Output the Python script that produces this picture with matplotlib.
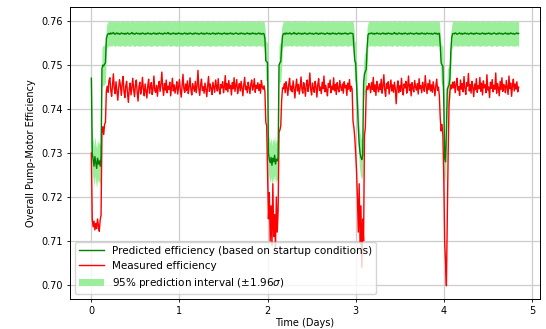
import numpy as np
import matplotlib
matplotlib.use("Agg")
import matplotlib.pyplot as plt
from matplotlib.lines import Line2D
from matplotlib.patches import Patch

# efficiency values in units of 1e-4, one sample every 0.01 days
sample_step_days = 0.01

# --- measured efficiency, per segment ---
meas_start0 = [7300, 7150, 7132, 7145, 7125, 7140, 7128, 7150, 7135, 7122,
               7148, 7158, 7345, 7360, 7342, 7365, 7370, 7440]
meas_run1 = [7452, 7438, 7465, 7471, 7443, 7429, 7456, 7480, 7447, 7435,
             7462, 7441, 7420, 7448, 7467, 7453, 7431, 7458, 7474, 7440,
             7426, 7451, 7463, 7437, 7415, 7446, 7459, 7432, 7449, 7470,
             7444, 7428, 7455, 7466, 7439, 7418, 7450, 7461, 7434, 7447,
             7472, 7445, 7430, 7457, 7441, 7425, 7452, 7468, 7436, 7449,
             7460, 7433, 7446, 7475, 7442, 7438, 7454, 7429, 7451, 7463,
             7440, 7456, 7484, 7447, 7431, 7458, 7443, 7466, 7437, 7452,
             7445, 7461, 7430, 7449, 7470, 7441, 7455, 7436, 7448, 7462,
             7434, 7451, 7467, 7443, 7427, 7453, 7479, 7446, 7438, 7457,
             7442, 7464, 7435, 7450, 7471, 7444, 7432, 7458, 7449, 7440,
             7463, 7437, 7452, 7488, 7446, 7431, 7455, 7468, 7442, 7451,
             7436, 7459, 7445, 7428, 7453, 7474, 7440, 7457, 7447, 7433,
             7461, 7449, 7438, 7466, 7452, 7441, 7469, 7445, 7434, 7456,
             7448, 7462, 7437, 7451, 7476, 7443, 7458, 7439, 7465, 7447,
             7454, 7432, 7460, 7446, 7471, 7440, 7453, 7467, 7435, 7449,
             7458, 7441, 7463, 7448, 7430, 7455, 7472, 7444, 7452, 7437,
             7461, 7449, 7435, 7457, 7466, 7443, 7451, 7469, 7438, 7454,
             7447, 7460, 7442, 7456, 7436, 7465, 7450, 7445, 7453]
meas_start2 = [7440, 7370, 7362, 7250, 7150, 7210, 7100, 7180, 7090, 7230,
               7110, 7160, 7085, 7200, 7120, 7170, 7348, 7352, 7362, 7420,
               7448]
meas_run2 = [7446, 7458, 7437, 7462, 7449, 7431, 7455, 7470, 7443, 7452,
             7439, 7464, 7447, 7425, 7451, 7468, 7441, 7456, 7434, 7449,
             7473, 7445, 7436, 7460, 7448, 7429, 7457, 7466, 7440, 7453,
             7482, 7444, 7432, 7459, 7447, 7438, 7463, 7451, 7427, 7455,
             7469, 7442, 7450, 7435, 7461, 7446, 7475, 7439, 7454, 7443,
             7430, 7458, 7449, 7466, 7437, 7452, 7444, 7471, 7441, 7456,
             7433, 7460, 7447, 7439, 7465, 7450, 7442, 7457, 7436, 7462,
             7448, 7454, 7431, 7459, 7445, 7467, 7440, 7452]
meas_start3 = [7445, 7372, 7358, 7335, 7300, 7260, 7200, 7120, 7230, 7095,
               7180, 7040, 7150, 7100, 7340, 7358, 7440, 7452, 7444, 7458]
meas_run3 = [7451, 7437, 7460, 7445, 7472, 7440, 7455, 7431, 7463, 7448,
             7439, 7457, 7444, 7468, 7436, 7452, 7478, 7443, 7429, 7458,
             7447, 7462, 7434, 7450, 7466, 7441, 7455, 7438, 7461, 7446,
             7412, 7449, 7464, 7437, 7453, 7440, 7470, 7445, 7432, 7457,
             7448, 7463, 7436, 7451, 7475, 7442, 7456, 7430, 7460, 7447,
             7439, 7465, 7450, 7443, 7458, 7434, 7469, 7446, 7453, 7437,
             7461, 7449, 7440, 7476, 7452, 7435, 7458, 7444, 7466, 7441,
             7455, 7438, 7462, 7447, 7430, 7453, 7468, 7442, 7450]
meas_start4 = [7430, 7380, 7350, 7365, 7340, 7250, 7100, 7053, 6998, 7150,
               7300, 7410, 7440, 7455, 7446, 7461]
meas_run4 = [7448, 7462, 7437, 7455, 7470, 7443, 7451, 7431, 7466, 7445,
             7458, 7439, 7474, 7447, 7433, 7460, 7452, 7481, 7441, 7456,
             7436, 7463, 7449, 7428, 7457, 7444, 7469, 7438, 7453, 7446,
             7472, 7440, 7459, 7432, 7464, 7448, 7455, 7437, 7478, 7443,
             7450, 7426, 7461, 7447, 7467, 7439, 7454, 7445, 7482, 7436,
             7458, 7449, 7430, 7463, 7444, 7471, 7440, 7456, 7452, 7437,
             7465, 7448, 7433, 7475, 7446, 7459, 7429, 7453, 7468, 7441,
             7457, 7445, 7462, 7439, 7450]

# --- predicted efficiency, per segment ---
pred_start0 = [7470, 7300, 7285, 7270, 7292, 7278, 7265, 7288, 7275, 7282,
               7270, 7290, 7492, 7500, 7498, 7502, 7505, 7560]
pred_run1 = [7568, 7571, 7572, 7570, 7573, 7571, 7572, 7574, 7571, 7570,
             7572, 7573, 7571, 7572, 7570, 7571, 7573, 7572, 7571, 7572,
             7570, 7572, 7571, 7573, 7572, 7570, 7571, 7572, 7574, 7571,
             7572, 7570, 7571, 7573, 7572, 7571, 7572, 7570, 7572, 7571,
             7573, 7572, 7571, 7570, 7572, 7571, 7573, 7572, 7571, 7572,
             7570, 7571, 7572, 7573, 7571, 7572, 7570, 7572, 7571, 7573,
             7572, 7571, 7572, 7570, 7571, 7573, 7572, 7571, 7572, 7574,
             7571, 7572, 7570, 7571, 7572, 7573, 7571, 7572, 7570, 7572,
             7571, 7573, 7572, 7571, 7572, 7570, 7571, 7572, 7573, 7571,
             7572, 7570, 7572, 7571, 7573, 7572, 7571, 7570, 7572, 7571,
             7573, 7572, 7571, 7572, 7570, 7571, 7572, 7573, 7571, 7572,
             7570, 7572, 7571, 7573, 7572, 7571, 7572, 7570, 7571, 7572,
             7573, 7571, 7572, 7570, 7572, 7571, 7573, 7572, 7571, 7572,
             7570, 7571, 7572, 7573, 7571, 7572, 7570, 7572, 7571, 7572,
             7573, 7571, 7572, 7570, 7571, 7572, 7573, 7572, 7571, 7570,
             7572, 7571, 7573, 7572, 7571, 7572, 7570, 7571, 7572, 7573,
             7571, 7572, 7570, 7572, 7571, 7573, 7572, 7571, 7572, 7570,
             7571, 7572, 7573, 7571, 7572, 7570, 7571, 7572, 7571]
pred_start2 = [7560, 7510, 7508, 7505, 7300, 7285, 7278, 7290, 7272, 7288,
               7280, 7295, 7275, 7286, 7282, 7290, 7500, 7505, 7508, 7540,
               7566]
pred_run2 = [7571, 7572, 7570, 7573, 7571, 7572, 7571, 7573, 7572, 7570,
             7571, 7572, 7574, 7571, 7572, 7570, 7571, 7573, 7572, 7571,
             7572, 7570, 7572, 7571, 7573, 7572, 7571, 7570, 7572, 7571,
             7573, 7572, 7571, 7572, 7570, 7571, 7572, 7573, 7571, 7572,
             7570, 7572, 7571, 7573, 7572, 7571, 7572, 7570, 7571, 7572,
             7573, 7571, 7572, 7570, 7572, 7571, 7573, 7572, 7571, 7572,
             7570, 7571, 7572, 7573, 7571, 7572, 7570, 7572, 7571, 7572,
             7573, 7571, 7572, 7570, 7571, 7572, 7573, 7572]
pred_start3 = [7572, 7571, 7540, 7510, 7505, 7460, 7410, 7360, 7320, 7300,
               7290, 7285, 7295, 7460, 7480, 7485, 7490, 7540, 7568, 7572]
pred_run3 = [7571, 7572, 7573, 7571, 7572, 7570, 7572, 7571, 7573, 7572,
             7571, 7572, 7570, 7571, 7572, 7573, 7571, 7572, 7570, 7572,
             7571, 7573, 7572, 7571, 7572, 7570, 7571, 7572, 7574, 7571,
             7572, 7570, 7571, 7573, 7572, 7571, 7572, 7570, 7572, 7571,
             7573, 7572, 7571, 7570, 7572, 7571, 7573, 7572, 7571, 7572,
             7570, 7571, 7572, 7573, 7571, 7572, 7570, 7572, 7571, 7573,
             7572, 7571, 7572, 7570, 7571, 7573, 7572, 7571, 7572, 7571,
             7572, 7570, 7571, 7572, 7573, 7571, 7572, 7570, 7572]
pred_start4 = [7572, 7545, 7505, 7500, 7498, 7420, 7290, 7280, 7350, 7445,
               7450, 7455, 7470, 7530, 7562, 7571]
pred_run4 = [7572, 7571, 7573, 7572, 7570, 7571, 7572, 7573, 7571, 7572,
             7570, 7572, 7571, 7573, 7572, 7571, 7572, 7570, 7571, 7572,
             7573, 7571, 7572, 7570, 7572, 7571, 7573, 7572, 7571, 7572,
             7570, 7571, 7572, 7573, 7571, 7572, 7570, 7572, 7571, 7572,
             7573, 7571, 7572, 7570, 7571, 7572, 7573, 7572, 7571, 7570,
             7572, 7571, 7573, 7572, 7571, 7572, 7570, 7571, 7572, 7573,
             7571, 7572, 7570, 7572, 7571, 7573, 7572, 7571, 7572, 7570,
             7571, 7572, 7573, 7571, 7572]

# prediction interval half width (1.96 sigma): steady running vs startup dips
pi_half_run = 0.0028
pi_half_startup = 0.0045
startup_level = 0.7545

meas_segments = [meas_start0, meas_run1, meas_start2, meas_run2,
                 meas_start3, meas_run3, meas_start4, meas_run4]
pred_segments = [pred_start0, pred_run1, pred_start2, pred_run2,
                 pred_start3, pred_run3, pred_start4, pred_run4]

measured = np.concatenate([np.array(s) for s in meas_segments]) / 1e4
predicted = np.concatenate([np.array(s) for s in pred_segments]) / 1e4
pi_half = np.where(predicted < startup_level, pi_half_startup, pi_half_run)
days = np.arange(len(measured)) * sample_step_days

fig = plt.figure(figsize=(5.46, 3.29), dpi=100)
ax = fig.add_axes([70 / 546, 30 / 329, 470 / 546, 292 / 329])

ax.fill_between(days, predicted - pi_half, predicted + pi_half,
                color="lightgreen", alpha=0.9, linewidth=0, zorder=1)
ax.plot(days, measured, color="red", lw=1.0, zorder=2)
ax.plot(days, predicted, color="green", lw=1.0, zorder=3)

ax.set_xlim(-0.2425, 5.0925)
ax.set_ylim(0.6968, 0.7632)
ax.set_xticks([0, 1, 2, 3, 4, 5])
ax.set_yticks([0.70, 0.71, 0.72, 0.73, 0.74, 0.75, 0.76])
ax.set_yticklabels([f"{v:.2f}" for v in ax.get_yticks()])
ax.tick_params(labelsize=7, length=2.5, width=0.6, pad=2.5)
ax.grid(True, color="#cccccc", lw=0.9)
ax.set_axisbelow(True)
for sp in ax.spines.values():
    sp.set_linewidth(0.7)

ax.set_xlabel("Time (Days)", fontsize=7, labelpad=1.5)
ax.set_ylabel("Overall Pump-Motor Efficiency", fontsize=7, labelpad=4)

handles = [Line2D([], [], color="green", lw=1.0),
           Line2D([], [], color="red", lw=1.0),
           Patch(facecolor="lightgreen", alpha=0.9)]
labels = ["Predicted efficiency (based on startup conditions)",
          "Measured efficiency",
          r"95% prediction interval ($\pm$1.96$\sigma$)"]
ax.legend(handles, labels, loc="lower left", fontsize=7.5, handlelength=2.4,
          borderaxespad=0.45)

fig.savefig("out.png", dpi=100)
